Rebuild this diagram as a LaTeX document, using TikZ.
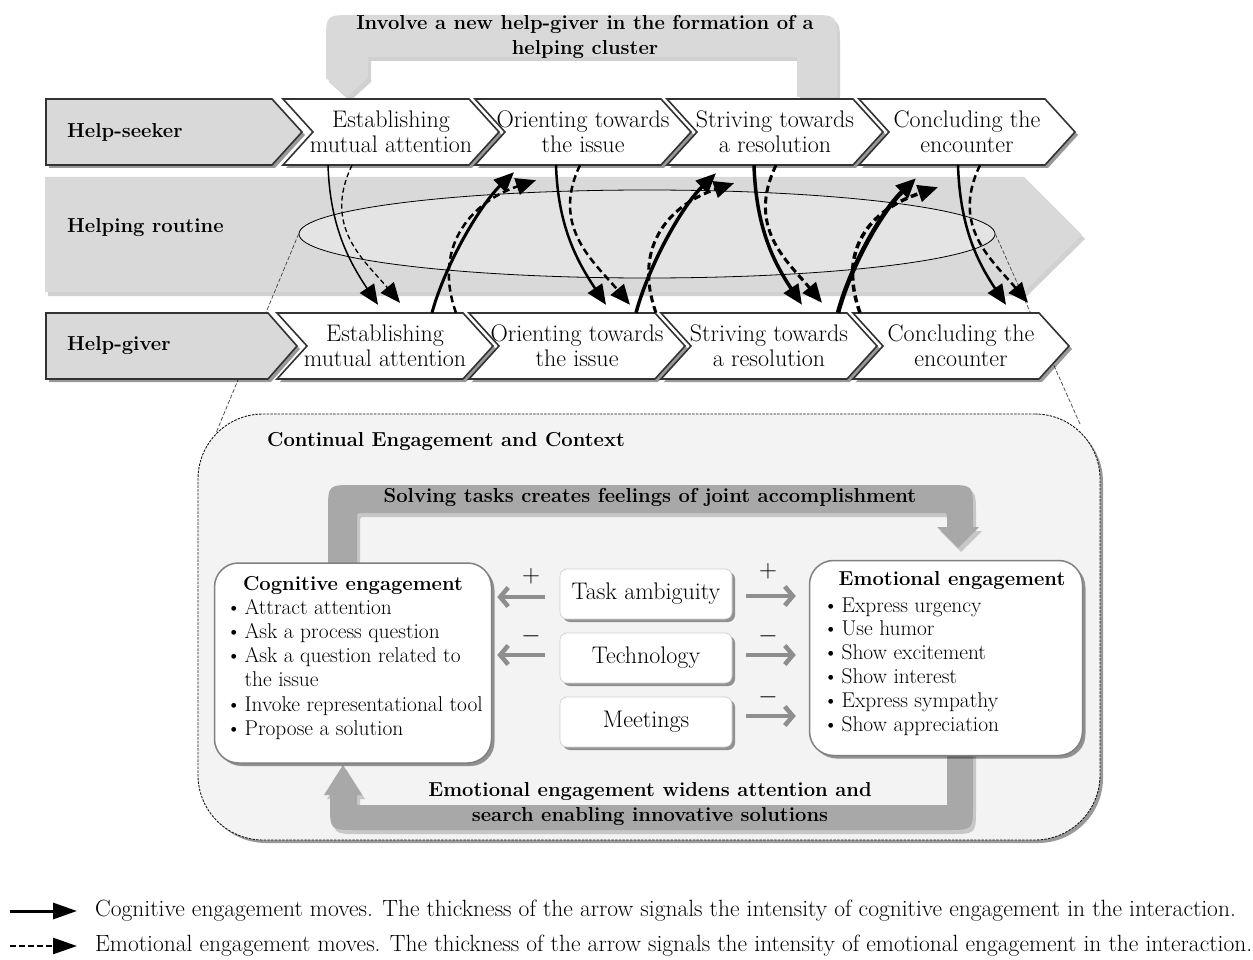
\documentclass[tikz,border=0pt]{standalone}
\usetikzlibrary{shapes.geometric,arrows.meta,shadows,calc}
\definecolor{bandgray}{HTML}{D9D9D9}
\definecolor{ellgray}{HTML}{E4E4E4}
\definecolor{ctxgray}{HTML}{F3F3F3}
\definecolor{loopgray}{HTML}{A8A8A8}
\definecolor{smallgray}{HTML}{8E8E8E}
\definecolor{edgegray}{HTML}{333333}
\newcommand\fsChev{\fontsize{24}{25}\selectfont}
\newcommand\fsBold{\fontsize{20.2}{24.5}\selectfont\bfseries}
\newcommand\fsItem{\fontsize{21.4}{24.3}\selectfont}
\newcommand\fsItemE{\fontsize{21.4}{23.9}\selectfont}
\newcommand\fsMid{\fontsize{24}{25}\selectfont}
\newcommand\fsLeg{\fontsize{23.5}{25}\selectfont}
\newcommand\mychev[2]{%
  \draw[chevline] (#1,#2) -- ++(186,0) -- ++(30,33) -- ++(-30,33) -- ++(-186,0) -- ++(30,-33) -- cycle;}
\begin{document}
\begin{tikzpicture}[x=1pt,y=-1pt,
  myshadow/.style={drop shadow={shadow xshift=3pt,shadow yshift=-3pt,opacity=0.4,fill=black}},
  softshadow/.style={drop shadow={shadow xshift=3pt,shadow yshift=-4pt,opacity=0.18,fill=black}},
  chevline/.style={draw=edgegray,line width=1.6pt,fill=white,myshadow},
  labbox/.style={draw=edgegray,line width=1.6pt,fill=bandgray,myshadow},
  chevtext/.style={minimum width=186pt,minimum height=66pt,inner sep=0pt,align=center,font=\fsChev},
  rowlabel/.style={anchor=west,inner sep=0pt,font=\fsBold},
  cogarrow/.style={-{Triangle[length=20pt,width=17pt]},line width=#1},
  emoarrow/.style={-{Triangle[length=20pt,width=17pt]},line width=#1,dash pattern=on 7pt off 4pt},
  ctxline/.style={draw=black!75,line width=0.7pt,dash pattern=on 4pt off 2pt},
  engbox/.style={draw=black!50,line width=1.5pt,fill=white,rounded corners=24pt,myshadow},
  midbox/.style={draw=black!20,line width=0.6pt,fill=white,rounded corners=7pt,minimum width=172pt,minimum height=50pt,inner sep=0pt,font=\fsMid,myshadow},
  smallarr/.style={draw=smallgray,line width=4.5pt,-{Straight Barb[length=8pt,width=19pt]}},
  signtext/.style={inner sep=0pt,font=\fontsize{28}{30}\selectfont}]
\useasboundingbox (0,0) rectangle (1253,960);
\fill[white] (0,0) rectangle (1253,960);

% ---- top bracket arrow
\fill[bandgray,softshadow] (326,78) -- (326,42) .. controls (326,15) .. (353,15) -- (810,15)
  .. controls (837,15) .. (837,42) -- (837,97) -- (797,97) -- (797,57) -- (368,57) -- (368,78) -- (347,97) -- cycle;
\node[font=\fsBold,align=center,inner sep=0pt] (involve) at (585,37) {Involve a new help-giver in the formation of a\\helping cluster};

% ---- helping routine band
\fill[bandgray,softshadow] (45,177) -- (1024,177) -- (1082,235) -- (1024,292) -- (45,292) -- cycle;
\node[rowlabel] (routine) at (67,228) {Helping routine};
\node[ellipse,draw=black,fill=ellgray,line width=0.8pt,minimum width=696pt,minimum height=88pt] (ell) at (647,234) {};

% ---- context box
\node[draw=black!90,line width=0.9pt,dash pattern=on 2.5pt off 1.2pt,fill=ctxgray,rounded corners=65pt,
      minimum width=902pt,minimum height=426pt,myshadow] (ctx) at (649,627) {};
\coordinate (ctxL) at (216,433);
\coordinate (ctxR) at (1080,424);
\draw[ctxline] (ell.west) -- (ctxL);
\draw[ctxline] (ell.east) -- (ctxR);

% ---- help-seeker row
\draw[labbox] (46,99) -- (272,99) -- (302,132) -- (272,165) -- (46,165) -- cycle;
\node[rowlabel] (seeker) at (67,132) {Help-seeker};
\mychev{283}{99}\mychev{475}{99}\mychev{667}{99}\mychev{859}{99}
\node[chevtext] (s1) at (391,132) {Establishing\\mutual attention};
\node[chevtext] (s2) at (583,132) {Orienting towards\\the issue};
\node[chevtext] (s3) at (775,132) {Striving towards\\a resolution};
\node[chevtext] (s4) at (967,132) {Concluding the\\encounter};

% ---- help-giver row
\draw[labbox] (46,313) -- (268,313) -- (297,346) -- (268,379) -- (46,379) -- cycle;
\node[rowlabel] (giver) at (67,346) {Help-giver};
\mychev{277}{313}\mychev{469}{313}\mychev{661}{313}\mychev{853}{313}
\node[chevtext] (g1) at (385,346) {Establishing\\mutual attention};
\node[chevtext] (g2) at (577,346) {Orienting towards\\the issue};
\node[chevtext] (g3) at (769,346) {Striving towards\\a resolution};
\node[chevtext] (g4) at (961,346) {Concluding the\\encounter};

% ---- engagement moves
% pair 1 (down)
\draw[cogarrow=1.5pt] ([xshift=-63pt]s1.south) .. controls +(2,60) and +(-30,-45) .. ([xshift=-7pt,yshift=8pt]g1.north);
\draw[emoarrow=1.3pt,dash pattern=on 5pt off 3pt] ([xshift=-39pt]s1.south) .. controls +(-30,62) and +(-35,-42) .. ([xshift=15pt,yshift=10pt]g1.north);
% pair 2 (up)
\draw[cogarrow=3pt] ([xshift=47pt]g1.north) .. controls +(13,-48) and +(-34,33) .. ([xshift=-69pt,yshift=-7pt]s2.south);
\draw[emoarrow=2.5pt] ([xshift=71pt]g1.north) .. controls +(-25,-70) and +(-60,20) .. ([xshift=-47pt,yshift=-15pt]s2.south);
% pair 3 (down)
\draw[cogarrow=2.5pt] ([xshift=-27pt]s2.south) .. controls +(2,60) and +(-30,-45) .. ([xshift=29pt,yshift=8pt]g2.north);
\draw[emoarrow=2.5pt] ([xshift=-3pt]s2.south) .. controls +(-30,62) and +(-35,-42) .. ([xshift=53pt,yshift=8pt]g2.north);
% pair 4 (up)
\draw[cogarrow=3.5pt] ([xshift=59pt]g2.north) .. controls +(13,-48) and +(-34,33) .. ([xshift=-59pt,yshift=-8pt]s3.south);
\draw[emoarrow=3pt] ([xshift=79pt]g2.north) .. controls +(-25,-70) and +(-60,20) .. ([xshift=-41pt,yshift=-18pt]s3.south);
% pair 5 (down)
\draw[cogarrow=3.5pt] ([xshift=-21pt]s3.south) .. controls +(2,60) and +(-30,-45) .. ([xshift=33pt,yshift=8pt]g3.north);
\draw[emoarrow=3pt] ([xshift=1pt]s3.south) .. controls +(-30,62) and +(-35,-42) .. ([xshift=53pt,yshift=10pt]g3.north);
% pair 6 (up)
\draw[cogarrow=4.5pt] ([xshift=69pt]g3.north) .. controls +(13,-48) and +(-34,33) .. ([xshift=-51pt,yshift=-13pt]s4.south);
\draw[emoarrow=3.5pt] ([xshift=91pt]g3.north) .. controls +(-25,-70) and +(-60,20) .. ([xshift=-29pt,yshift=-22pt]s4.south);
% pair 7 (down)
\draw[cogarrow=2.5pt] ([xshift=-9pt]s4.south) .. controls +(2,60) and +(-30,-45) .. ([xshift=45pt,yshift=8pt]g4.north);
\draw[emoarrow=2.5pt] ([xshift=13pt]s4.south) .. controls +(-30,62) and +(-35,-42) .. ([xshift=67pt,yshift=10pt]g4.north);

% ---- inside context box
\node[anchor=west,inner sep=0pt,font=\fsBold] (ctxtitle) at (267,441) {Continual Engagement and Context};

\fill[loopgray,softshadow] (328,565) -- (328,511) .. controls (328,485) .. (354,485) -- (947,485)
  .. controls (973,485) .. (973,511) -- (973,527) -- (979,527) -- (958,548) -- (937,527) -- (947,527)
  -- (947,519) .. controls (947,513) .. (941,513) -- (363,513) .. controls (357,513) .. (357,519) -- (357,565) -- cycle;
\node[font=\fsBold,inner sep=0pt] (solving) at (650,497) {Solving tasks creates feelings of joint accomplishment};

\fill[loopgray,softshadow] (947,740) -- (973,740) -- (973,804) .. controls (973,830) .. (947,830) -- (356,830)
  .. controls (330,830) .. (330,804) -- (330,795) -- (324,795) -- (343,765) -- (362,795) -- (357,795)
  -- (357,805) -- (947,805) -- cycle;
\node[font=\fsBold,align=center,inner sep=0pt] (widens) at (650,804) {Emotional engagement widens attention and\\search enabling innovative solutions};

\node[engbox,minimum width=277pt,minimum height=200pt] (cog) at (353,663) {};
\node[engbox,minimum width=273pt,minimum height=195pt] (emo) at (946,658) {};
\node[font=\fsBold,inner sep=0pt] (cogtitle) at (353,585) {Cognitive engagement};
\node[font=\fsBold,inner sep=0pt] (emotitle) at (952,581) {Emotional engagement};
\node[anchor=base west,inner sep=0pt,font=\fsItem] (coglist) at (226,614)
  {\begin{tabular}[t]{@{}l@{\hspace{3pt}}l@{}}
   \textbullet & Attract attention\\
   \textbullet & Ask a process question\\
   \textbullet & Ask a question related to\\
               & the issue\\
   \textbullet & Invoke representational tool\\
   \textbullet & Propose a solution
   \end{tabular}};
\node[anchor=base west,inner sep=0pt,font=\fsItemE] (emolist) at (823,612)
  {\begin{tabular}[t]{@{}l@{\hspace{3pt}}l@{}}
   \textbullet & Express urgency\\
   \textbullet & Use humor\\
   \textbullet & Show excitement\\
   \textbullet & Show interest\\
   \textbullet & Express sympathy\\
   \textbullet & Show appreciation
   \end{tabular}};

\node[midbox] (task) at (646,594) {Task ambiguity};
\node[midbox] (tech) at (646,658) {Technology};
\node[midbox] (meet) at (646,722) {Meetings};

\draw[smallarr] ($(task.west)+(-15,3)$) -- ($(cog.east |- task.west)+(5,3)$);
\draw[smallarr] ($(tech.west)+(-15,-3)$) -- ($(cog.east |- tech.west)+(5,-3)$);
\draw[smallarr] ($(task.east)+(14,2)$) -- ($(emo.west |- task.east)+(-13,2)$);
\draw[smallarr] ($(tech.east)+(14,-3)$) -- ($(emo.west |- tech.east)+(-13,-3)$);
\draw[smallarr] ($(meet.east)+(14,-6)$) -- ($(emo.west |- meet.east)+(-13,-6)$);

\node[signtext] (p1) at (531,576) {$+$};
\node[signtext] (m1) at (531,636) {$-$};
\node[signtext] (p2) at (768,571) {$+$};
\node[signtext] (m2) at (768,636) {$-$};
\node[signtext] (m3) at (768,697) {$-$};

% ---- legend
\coordinate (legS1) at (10,911); \coordinate (legE1) at (77,911);
\coordinate (legS2) at (10,946); \coordinate (legE2) at (77,946);
\draw[-{Triangle[length=24pt,width=16pt]},line width=3pt] (legS1) -- (legE1);
\draw[-{Triangle[length=24pt,width=16pt]},line width=2.5pt,dash pattern=on 6pt off 3pt] (legS2) -- (legE2);
\node[anchor=west,inner sep=0pt,font=\fsLeg] (leg1) at (95,911) {Cognitive engagement moves. The thickness of the arrow signals the intensity of cognitive engagement in the interaction.};
\node[anchor=west,inner sep=0pt,font=\fsLeg] (leg2) at (95,946) {Emotional engagement moves. The thickness of the arrow signals the intensity of emotional engagement in the interaction.};
\end{tikzpicture}
\end{document}
